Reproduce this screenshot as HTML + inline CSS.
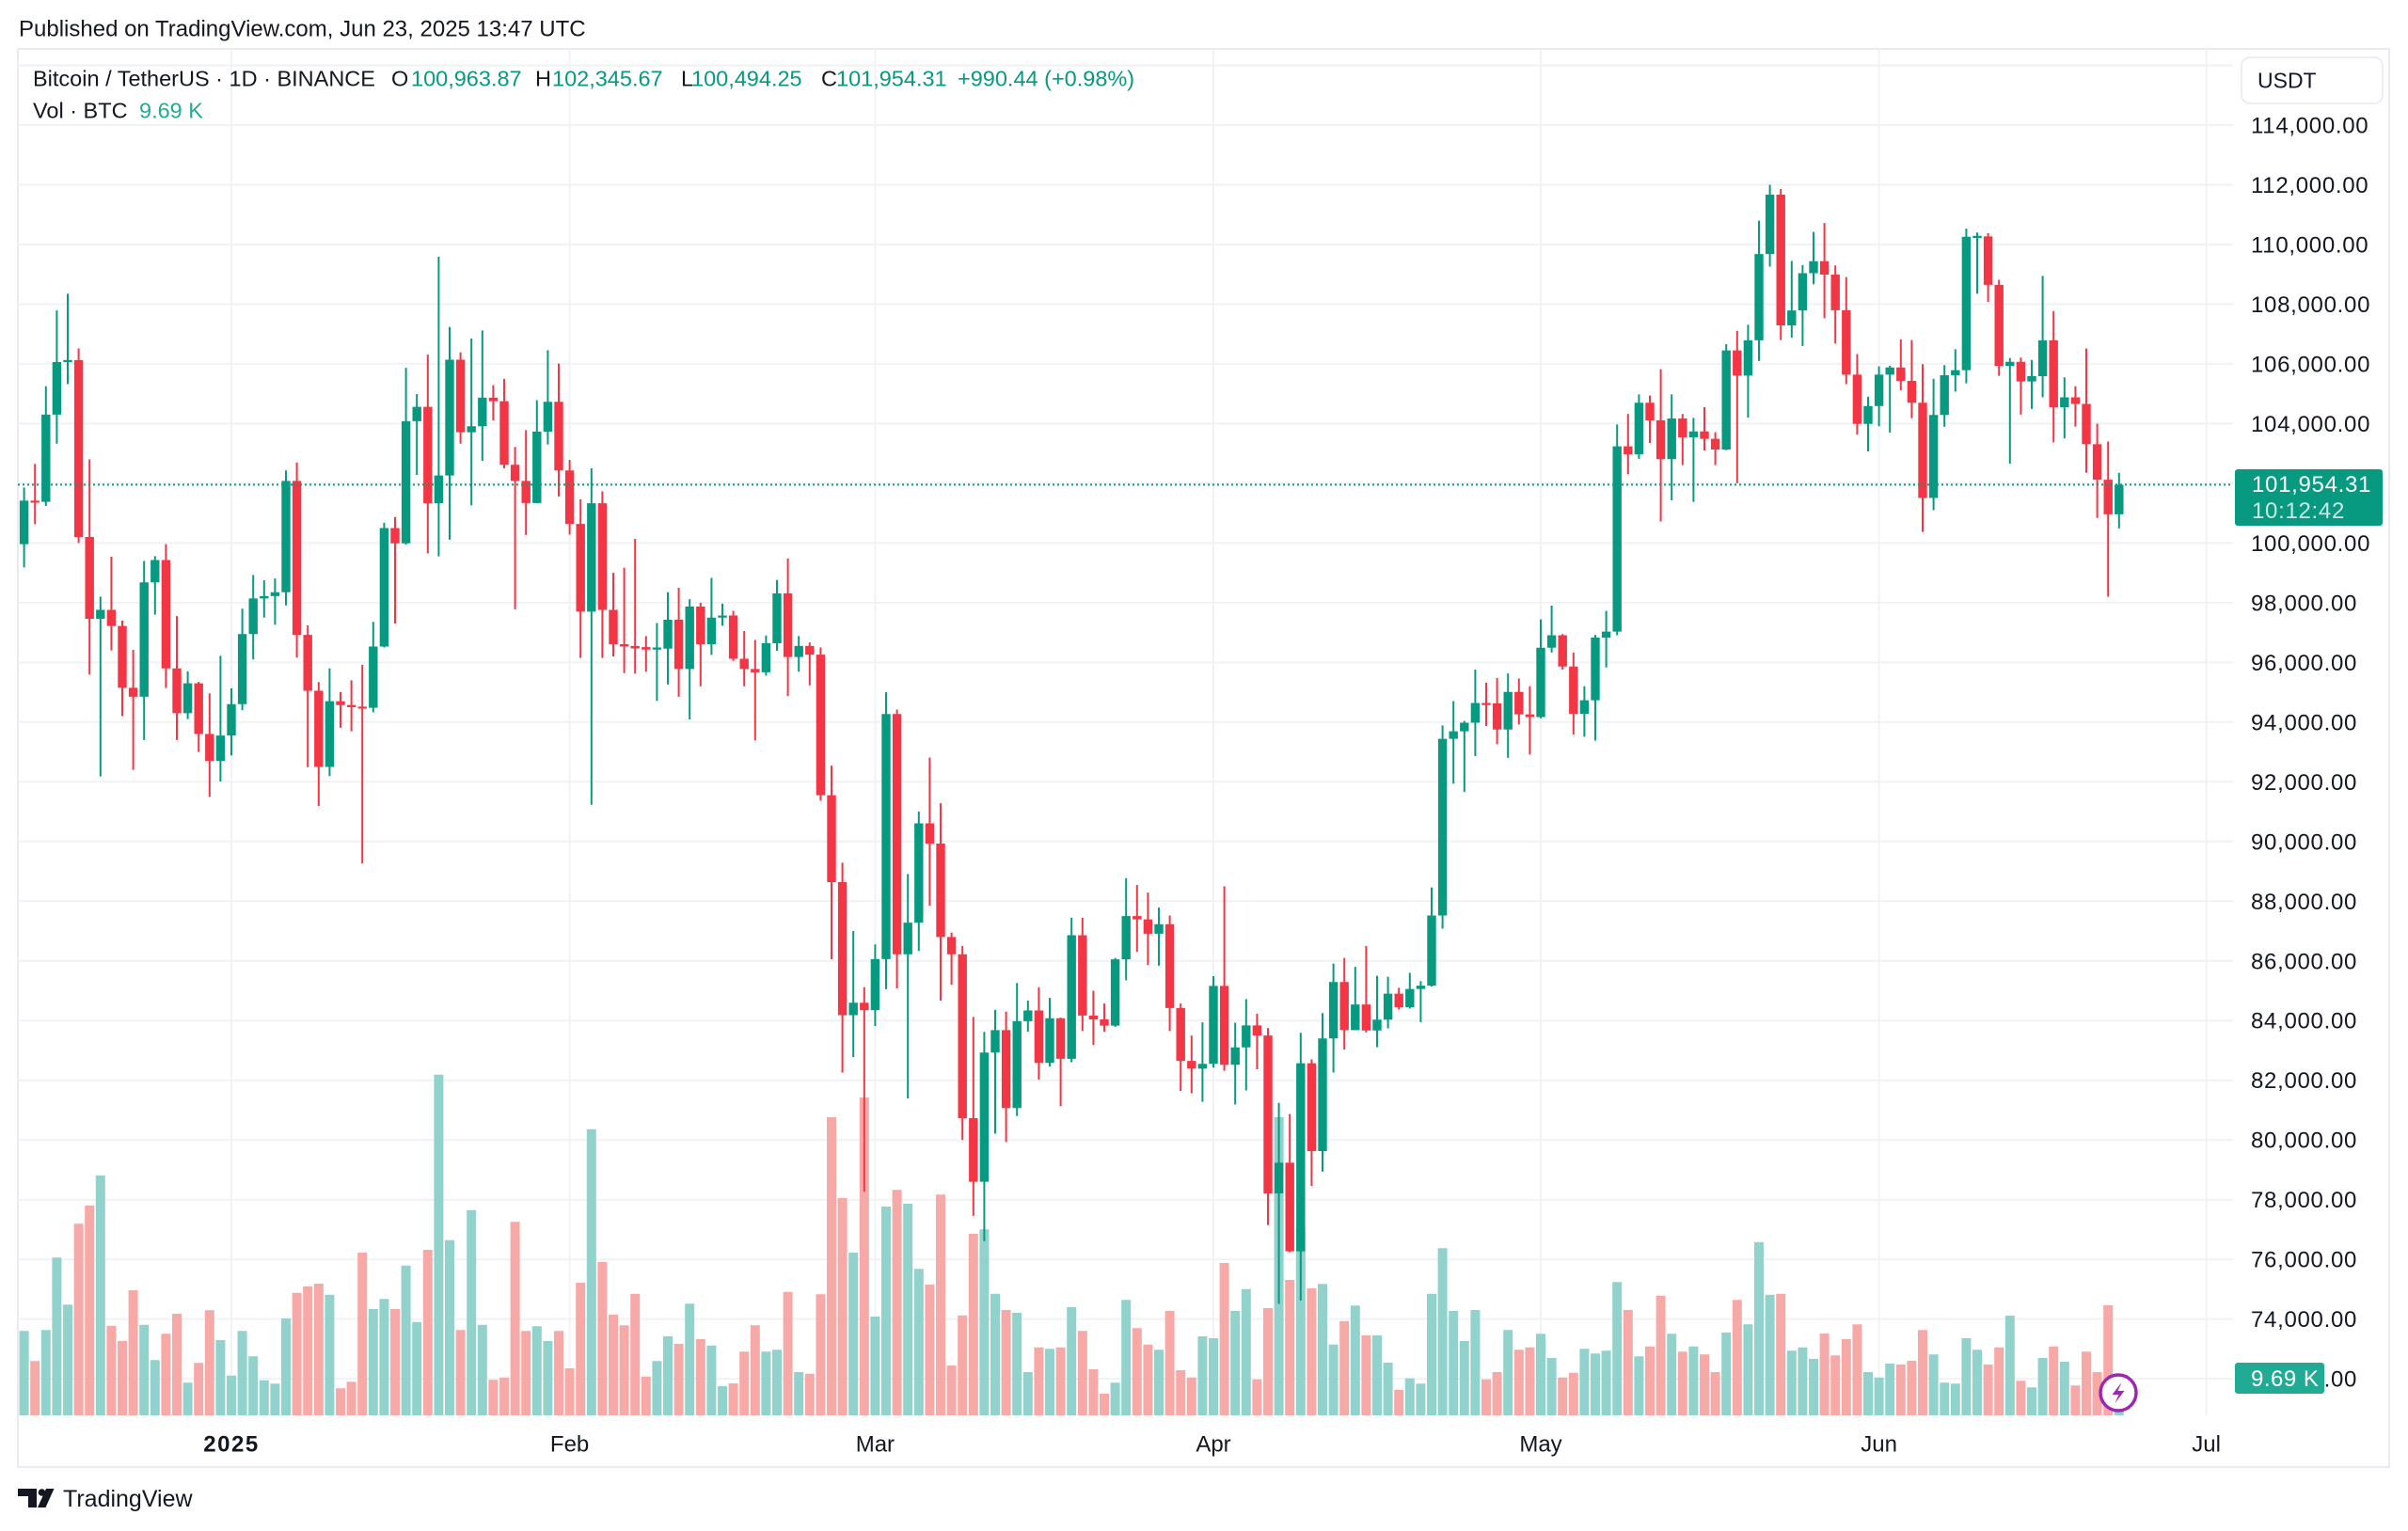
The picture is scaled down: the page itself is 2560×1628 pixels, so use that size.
<!DOCTYPE html>
<html><head><meta charset="utf-8">
<style>
html,body{margin:0;padding:0;background:#ffffff;overflow:hidden;}
svg{display:block;}
text{font-family:"Liberation Sans",Arial,sans-serif;}
</style></head>
<body>
<svg width="2560" height="1628" viewBox="0 0 2560 1628" xmlns="http://www.w3.org/2000/svg">
<rect x="0" y="0" width="2560" height="1628" fill="#ffffff"/>
<text x="20" y="38.5" font-size="24" fill="#131722">Published on TradingView.com, Jun 23, 2025 13:47 UTC</text>
<rect x="19" y="52" width="2521" height="1508" fill="#ffffff" stroke="#e9ebf0" stroke-width="2"/>

<!-- grid -->
<path fill="none" stroke="#f0f2f5" stroke-width="2" d="M19 69.6H2374M19 133H2374M19 196.5H2374M19 260H2374M19 323.5H2374M19 386.9H2374M19 450.4H2374M19 513.9H2374M19 577.4H2374M19 640.9H2374M19 704.4H2374M19 767.8H2374M19 831.3H2374M19 894.8H2374M19 958.3H2374M19 1021.8H2374M19 1085.2H2374M19 1148.7H2374M19 1212.2H2374M19 1275.7H2374M19 1339.2H2374M19 1402.6H2374M19 1466.1H2374M246 52V1505M605.6 52V1505M930.4 52V1505M1290 52V1505M1638 52V1505M1997.6 52V1505M2345.6 52V1505"/>

<!-- volume -->
<g transform="translate(246 1505) scale(11.6 -1)" fill="none" stroke-width="0.862">
<path stroke="#92d2cc" d="M-19 0V89.7M-17 0V90.7M-16 0V167.7M-15 0V117.7M-12 0V255M-8 0V96.3M-7 0V58.7M-4 0V34.7M-1 0V80M0 0V42.3M1 0V89.7M2 0V62.7M3 0V37.3M4 0V33.7M5 0V103M9 0V128.3M13 0V113M14 0V123.7M16 0V159.3M17 0V99.3M19 0V362.3M20 0V186.3M22 0V218.3M23 0V96.3M28 0V94.7M29 0V79M33 0V304.3M39 0V57.7M40 0V84M42 0V118.7M44 0V74.3M45 0V31M49 0V67.7M50 0V69.7M52 0V46M57 0V173M59 0V105M60 0V222M62 0V225M63 0V155.7M69 0V197.7M70 0V129.3M72 0V109M73 0V46M75 0V70.7M77 0V115M81 0V34.7M82 0V122.7M85 0V69.7M89 0V84M90 0V82M92 0V111M93 0V134.3M96 0V317M98 0V200M100 0V139.7M101 0V75.3M103 0V116.7M105 0V85M106 0V56M108 0V39.3M109 0V33.7M110 0V129.3M111 0V177.7M112 0V111M113 0V79M114 0V112M117 0V90.7M120 0V86.7M121 0V61M124 0V70.7M125 0V65.7M126 0V68.7M127 0V141.7M129 0V62.7M132 0V86.7M134 0V73.3M137 0V88M139 0V96.7M140 0V184.3M141 0V128.3M143 0V68.7M144 0V72.3M145 0V60M150 0V46M151 0V40.3M152 0V55M156 0V64.7M157 0V34.7M158 0V33.7M159 0V82M160 0V69.7M163 0V106M165 0V29.7M166 0V61M168 0V57M173 0V39.4"/>
<path stroke="#f7a9a7" d="M-18 0V57.7M-14 0V203.7M-13 0V223M-11 0V95.3M-10 0V79M-9 0V133M-6 0V86.7M-5 0V108M-3 0V55.7M-2 0V111.7M6 0V130.3M7 0V137M8 0V140M10 0V28.7M11 0V35.7M12 0V173M15 0V113M18 0V176M21 0V90.7M24 0V37.7M25 0V40.3M26 0V205.7M27 0V89.7M30 0V89.7M31 0V50M32 0V141M34 0V163M35 0V107M36 0V95.7M37 0V129.3M38 0V41.3M41 0V76M43 0V81M46 0V34M47 0V67.7M48 0V95.7M51 0V131.3M53 0V44.3M54 0V128.7M55 0V317M56 0V231M58 0V338M61 0V239.7M64 0V139M65 0V234.7M66 0V53M67 0V106.3M68 0V193M71 0V112M74 0V72.3M76 0V72.3M78 0V89.7M79 0V49M80 0V23M83 0V92.7M84 0V75.3M86 0V111M87 0V48M88 0V40.3M91 0V162M94 0V38.3M95 0V114M97 0V144M99 0V135M102 0V100.3M104 0V85M107 0V27M115 0V38.3M116 0V46M118 0V69.7M119 0V72.3M122 0V40.3M123 0V45.3M128 0V112M130 0V73.3M131 0V127.3M133 0V67.7M135 0V64.7M136 0V46M138 0V122.7M142 0V129.3M146 0V87M147 0V63.7M148 0V81M149 0V96.7M153 0V54M154 0V58M155 0V90.7M161 0V54M162 0V72.3M164 0V36.7M167 0V73.3M169 0V31.7M170 0V67.7M171 0V46M172 0V117"/>
</g>

<!-- candles -->
<g transform="translate(246 577.4) scale(11.6 -31.74) translate(0 -100)" fill="none">
<path stroke="#089981" stroke-width="0.1724" d="M-19 99.18V101.86M-17 101.24V105.25M-16 103.33V107.79M-15 105.32V108.35M-12 92.18V98.2M-8 93.4V99.4M-7 97.6V99.56M-4 94.1V95.7M-1 92.01V96.22M0 92.88V95.13M1 94.4V97.8M2 96.1V98.93M3 97.5V98.75M4 97.26V98.81M5 97.91V102.43M9 92.19V95.8M13 94.33V97.36M14 96.5V100.68M16 99.95V105.87M17 102.28V104.99M19 99.55V109.59M20 100.11V107.24M22 101.26V106.85M23 102.75V107.12M28 101.33V104.78M29 103.3V106.46M33 91.23V102.5M39 94.71V97.32M40 95.26V98.35M42 94.09V98.12M44 96.25V98.83M45 97.23V97.97M49 95.56V96.9M50 96.39V98.76M52 95.69V96.88M57 82.78V87M59 83.82V86.55M60 85.05V95M62 81.39V88.91M63 86.33V91M69 76.61V83.62M70 80.21V84.36M72 80.8V85.26M73 83.63V84.67M75 82.46V84.76M77 82.6V87.45M81 83.79V86.1M82 85.35V88.77M85 85.84V87.79M89 81.28V83.94M90 82.43V85.49M92 81.19V83.93M93 81.66V84.72M96 74.51V81.24M98 74.62V83.59M100 78.94V84.25M101 82.26V85.91M103 83.68V85.8M105 83.11V85.5M106 83.74V85.47M108 84.4V85.6M109 83.95V85.32M110 85.14V88.46M111 87.08V93.89M112 91.94V94.7M113 91.66V94.04M114 92.86V95.76M117 92.8V95.63M120 94.13V97.44M121 96.33V97.9M124 93.51V95.2M125 93.38V96.92M126 95.83V97.73M127 96.91V103.97M129 102.82V104.98M132 101.43V104.98M134 101.38V104.19M137 103.11V106.66M139 104.2V107.31M140 106.1V110.8M141 109.26V112M143 106.88V109.45M144 106.6V109.31M145 108.67V110.42M150 103.07V104.9M151 103.91V105.92M152 103.7V105.94M156 101.1V105.5M157 103.89V105.96M158 105.07V106.49M159 105.35V110.53M160 108.35V110.4M163 102.66V106.2M165 104.49V106.13M166 104.88V108.95M168 103.5V105.55M173 100.49V102.35"/>
<path stroke="#089981" stroke-width="0.81" d="M-19 99.96V101.42M-17 101.38V104.3M-16 104.3V106.06M-15 106.06V106.13M-12 97.46V97.76M-8 94.85V98.68M-7 98.68V99.43M-4 94.3V95.3M-1 92.7V93.55M0 93.55V94.6M1 94.6V96.95M2 96.95V98.14M3 98.14V98.22M4 98.22V98.35M5 98.35V102.08M9 92.5V94.7M13 94.48V96.53M14 96.53V100.5M16 99.99V104.08M17 104.08V104.56M19 101.33V102.26M20 102.26V106.14M22 103.71V103.91M23 103.91V104.87M28 101.34V103.73M29 103.73V104.73M33 97.7V101.33M39 96.43V96.5M40 96.46V97.43M42 95.78V97.87M44 96.61V97.5M45 97.5V97.57M49 95.67V96.64M50 96.64V98.31M52 96.18V96.55M57 84.18V84.6M59 84.35V86.06M60 86.06V94.27M62 86.22V87.28M63 87.28V90.61M69 78.6V82.93M70 82.93V83.68M72 81.07V83.98M73 83.98V84.34M75 82.58V84.08M77 82.72V86.86M81 83.83V86.05M82 86.05V87.5M85 86.91V87.23M89 82.39V82.55M90 82.55V85.16M92 82.52V83.1M93 83.1V83.84M96 78.21V79.24M98 76.27V82.57M100 79.63V83.4M101 83.4V85.29M103 83.68V84.54M105 83.67V84.03M106 84.03V84.9M108 84.45V85.06M109 85.06V85.17M110 85.17V87.52M111 87.52V93.44M112 93.44V93.69M113 93.69V93.98M114 93.98V94.64M117 93.75V95.01M120 94.17V96.49M121 96.49V96.91M124 94.28V94.73M125 94.73V96.83M126 96.83V97.03M127 97.03V103.24M129 102.97V104.7M132 102.81V104.17M134 103.54V103.74M137 103.13V106.45M139 105.61V106.79M140 106.79V109.68M141 109.68V111.67M143 107.29V107.79M144 107.79V109.04M145 109.04V109.44M150 103.99V104.59M151 104.59V105.64M152 105.64V105.88M156 101.51V104.29M157 104.29V105.62M158 105.62V105.79M159 105.79V110.26M160 110.22V110.29M163 105.93V106.07M165 105.41V105.59M166 105.59V106.79M168 104.55V104.88M173 100.96V101.95"/>
<path stroke="#f23645" stroke-width="0.1724" d="M-18 100.63V102.65M-14 100V106.52M-13 95.59V102.8M-11 96.4V99.54M-10 94.2V97.4M-9 92.4V96.42M-6 95.14V99.96M-5 93.4V97.55M-3 93V95.35M-2 91.5V94.96M6 96.16V102.69M7 92.49V97.24M8 91.19V95.34M10 93.81V95.01M11 93.69V95.4M12 89.26V95.92M15 97.3V100.87M18 99.65V106.31M21 103.33V106.39M24 104.11V105.29M25 102.5V105.5M26 97.78V103.22M27 100.27V103.78M30 101.56V106.01M31 100.28V102.78M32 96.15V101.46M34 96.15V101.73M35 96.2V99M36 95.64V99.17M37 95.62V100.14M38 95.69V96.88M41 94.85V98.5M43 95.2V98M46 96.05V97.73M47 95.2V97.05M48 93.39V96.75M51 94.87V99.48M53 95.23V96.67M54 91.37V96.5M55 86.05V92.54M56 82.26V89.29M58 78.26V85.12M61 85.08V94.42M64 87.85V92.81M65 84.67V91.28M66 85.2V86.95M67 80V86.5M68 77.46V84.12M71 79.93V84.3M74 82.02V85.12M76 81.13V84.1M78 83.65V87.45M79 83.18V85M80 83.63V84.57M83 86.3V88.54M84 85.86V88.29M86 83.65V87.52M87 81.64V84.57M88 81.57V83.5M91 82.32V88.5M94 82.37V84.23M95 77.15V83.75M97 76.24V80.87M99 78.46V82.7M102 83.03V86.1M104 83.6V86.5M107 84.37V85.1M115 93.87V95.32M116 93.26V95.48M118 93.92V95.46M119 92.91V95.2M122 95.76V96.95M123 93.58V96.33M128 102.3V104.32M130 103.35V104.94M131 100.72V105.82M133 102.61V104.32M135 103.1V104.55M136 102.61V103.71M138 102V107.11M142 106.8V111.86M146 107.53V110.72M147 106.68V109.3M148 105.32V108.91M149 103.63V106.33M153 105.12V106.82M154 104.18V106.8M155 100.37V105.99M161 108.08V110.38M162 105.6V108.82M164 104.3V106.21M167 103.37V107.77M169 103.9V105.25M170 102.35V106.52M171 100.84V104M172 98.2V103.4"/>
<path stroke="#f23645" stroke-width="0.81" d="M-18 101.35V101.42M-14 100.2V106.13M-13 97.46V100.2M-11 97.22V97.76M-10 95.15V97.22M-9 94.85V95.15M-6 95.8V99.43M-5 94.3V95.8M-3 93.6V95.3M-2 92.7V93.6M6 96.92V102.08M7 95.05V96.92M8 92.5V95.05M10 94.57V94.7M11 94.5V94.57M12 94.45V94.52M15 99.99V100.5M18 101.33V104.56M21 103.71V106.14M24 104.75V104.87M25 102.62V104.75M26 102.08V102.62M27 101.34V102.08M30 102.43V104.73M31 100.64V102.43M32 97.7V100.64M34 97.76V101.33M35 96.61V97.76M36 96.53V96.61M37 96.47V96.55M38 96.43V96.51M41 95.78V97.43M43 96.61V97.87M46 96.12V97.57M47 95.78V96.12M48 95.67V95.78M51 96.18V98.31M53 96.26V96.55M54 91.55V96.26M55 88.64V91.55M56 84.18V88.64M58 84.35V84.6M61 86.22V94.27M64 89.93V90.61M65 86.8V89.93M66 86.22V86.8M67 80.73V86.22M68 78.6V80.73M71 81.07V83.68M74 82.58V84.34M76 82.72V84.08M78 84.17V86.86M79 84.04V84.17M80 83.83V84.04M83 87.39V87.5M84 86.91V87.39M86 84.42V87.23M87 82.65V84.42M88 82.39V82.65M91 82.52V85.16M94 83.5V83.84M95 78.21V83.5M97 76.27V79.24M99 79.63V82.57M102 83.68V85.29M104 83.67V84.54M107 84.45V84.9M115 94.57V94.64M116 93.75V94.63M118 94.26V95.01M119 94.17V94.26M122 95.86V96.91M123 94.28V95.86M128 102.97V103.24M130 104.11V104.7M131 102.81V104.11M133 103.54V104.17M135 103.49V103.74M136 103.13V103.49M138 105.61V106.45M142 107.29V111.67M146 108.99V109.44M147 107.8V108.99M148 105.64V107.8M149 103.99V105.64M153 105.43V105.88M154 104.7V105.43M155 101.51V104.7M161 108.65V110.27M162 105.93V108.65M164 105.41V106.07M167 104.55V106.79M169 104.66V104.88M170 103.31V104.66M171 102.12V103.31M172 100.96V102.12"/>
</g>

<line x1="19" y1="515.4" x2="2374" y2="515.4" stroke="#089981" stroke-width="2" stroke-dasharray="2,3"/>

<!-- legend -->
<g font-size="23.5">
<text x="35" y="91.5" fill="#131722">Bitcoin / TetherUS · 1D · BINANCE</text>
<text x="416" y="91.5" fill="#131722">O</text><text x="437" y="91.5" fill="#089981">100,963.87</text>
<text x="569" y="91.5" fill="#131722">H</text><text x="587" y="91.5" fill="#089981">102,345.67</text>
<text x="724" y="91.5" fill="#131722">L</text><text x="735" y="91.5" fill="#089981">100,494.25</text>
<text x="873" y="91.5" fill="#131722">C</text><text x="889" y="91.5" fill="#089981">101,954.31</text>
<text x="1018" y="91.5" fill="#089981">+990.44 (+0.98%)</text>
<text x="35" y="125.5" fill="#131722">Vol · BTC</text>
<text x="148" y="125.5" fill="#22ab94">9.69 K</text>
</g>

<!-- price axis -->
<rect x="2383" y="61" width="150" height="49" rx="9" fill="#ffffff" stroke="#e6e8ec" stroke-width="1.5"/>
<text x="2400" y="93.5" font-size="23" fill="#131722">USDT</text>
<g font-size="24" fill="#131722" letter-spacing="0.7">
<text x="2393" y="141.5">114,000.00</text>
<text x="2393" y="205">112,000.00</text>
<text x="2393" y="268.5">110,000.00</text>
<text x="2393" y="332">108,000.00</text>
<text x="2393" y="395.5">106,000.00</text>
<text x="2393" y="459">104,000.00</text>
<text x="2393" y="586">100,000.00</text>
<text x="2393" y="649.4">98,000.00</text>
<text x="2393" y="712.8">96,000.00</text>
<text x="2393" y="776.3">94,000.00</text>
<text x="2393" y="839.8">92,000.00</text>
<text x="2393" y="903.3">90,000.00</text>
<text x="2393" y="966.8">88,000.00</text>
<text x="2393" y="1030.3">86,000.00</text>
<text x="2393" y="1093.7">84,000.00</text>
<text x="2393" y="1157.2">82,000.00</text>
<text x="2393" y="1220.7">80,000.00</text>
<text x="2393" y="1284.2">78,000.00</text>
<text x="2393" y="1347.7">76,000.00</text>
<text x="2393" y="1411.2">74,000.00</text>
<text x="2393" y="1474.7">72,000.00</text>
</g>
<rect x="2376" y="499" width="157" height="60" rx="3" fill="#089981"/>
<g font-size="24" letter-spacing="0.7">
<text x="2394" y="523" fill="#ffffff">101,954.31</text>
<text x="2394" y="551" fill="#ffffff" fill-opacity="0.78">10:12:42</text>
</g>
<rect x="2376" y="1449" width="95" height="33" rx="3" fill="#22ab94"/>
<text x="2393" y="1474" font-size="24" fill="#ffffff" letter-spacing="0.5">9.69 K</text>

<!-- time axis -->
<g font-size="24" fill="#131722" text-anchor="middle">
<text x="246" y="1543.5" font-weight="bold" letter-spacing="1.5">2025</text>
<text x="605.6" y="1543.5">Feb</text>
<text x="930.4" y="1543.5">Mar</text>
<text x="1290" y="1543.5">Apr</text>
<text x="1638" y="1543.5">May</text>
<text x="1997.6" y="1543.5">Jun</text>
<text x="2345.6" y="1543.5">Jul</text>
</g>

<!-- lightning icon -->
<circle cx="2252" cy="1481" r="19" fill="#ffffff" stroke="#9c27b0" stroke-width="3.5"/>
<path d="M2255.5 1470 L2245.5 1483 L2252.5 1483 L2248.5 1492 L2258.5 1479 L2251.5 1479 Z" fill="#9c27b0"/>

<!-- TradingView logo -->
<g fill="#131722">
<rect x="19" y="1583" width="20" height="8"/>
<rect x="30" y="1583" width="9" height="20"/>
<circle cx="44.5" cy="1587" r="3.8"/>
<path d="M49 1583 L57.5 1583 L48.5 1603 L40 1603 Z"/>
</g>
<text x="67" y="1602" font-size="25" fill="#131722">TradingView</text>
</svg>
</body></html>
